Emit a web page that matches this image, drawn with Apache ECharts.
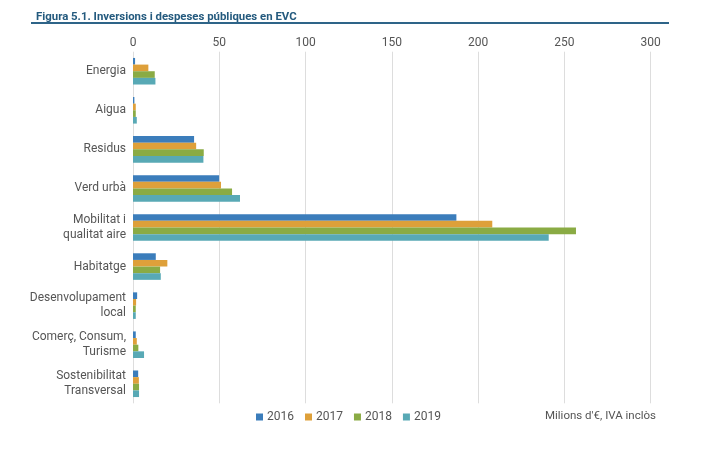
<!DOCTYPE html>
<html>
<head>
<meta charset="utf-8">
<script src="https://cdn.jsdelivr.net/npm/echarts@6/dist/echarts.min.js"></script>
<style>
html,body{margin:0;padding:0;background:#fff;}
#c{width:704px;height:457px;}
</style>
</head>
<body>
<div id="c"></div>
<script>
const categories = ["Energia","Aigua","Residus","Verd urbà","Mobilitat i\nqualitat aire","Habitatge","Desenvolupament\nlocal","Comerç, Consum,\nTurisme","Sostenibilitat\nTransversal"];
const years = ["2016","2017","2018","2019"];
const v2016 = [1.2, 0.8, 35.4, 49.9, 187.4, 13.2, 2.4, 1.6, 3.0];
const v2017 = [8.9, 1.6, 36.6, 51.0, 208.2, 19.9, 1.8, 2.2, 3.4];
const v2018 = [12.6, 1.6, 41.0, 57.4, 256.7, 15.7, 1.6, 3.1, 3.5];
const v2019 = [13.0, 2.2, 40.8, 62.0, 240.9, 16.1, 1.6, 6.4, 3.5];
const xTicks = [0, 50, 100, 150, 200, 250, 300];
const unitNote = "Milions d'€, IVA inclòs";
const titleText = "Figura 5.1. Inversions i despeses públiques en EVC";

const colors = ["#3b7dbb", "#dea03a", "#8aab44", "#58a9b5"];
const seriesData = [v2016, v2017, v2018, v2019];

const chart = echarts.init(document.getElementById('c'));
const font = "Roboto, 'Noto Sans', sans-serif";
chart.setOption({
  animation: false,
  color: colors,
  textStyle: {fontFamily: font},
  title: {
    text: titleText,
    left: 31, top: 7,
    textStyle: {fontFamily: "Roboto, sans-serif", fontWeight: 'bold', fontSize: 11.4, color: '#245a7e'}
  },
  graphic: [
    {type: 'rect', shape: {x: 31, y: 22, width: 638, height: 2}, style: {fill: '#2e6488'}},
    {type: 'text', right: 48, top: 410, style: {text: unitNote, fontFamily: font, fontSize: 11.5, fill: '#555'}}
  ],
  legend: {
    left: 251, top: 406,
    itemWidth: 7, itemHeight: 7, itemGap: 11,
    icon: 'rect',
    textStyle: {fontFamily: font, fontSize: 12, color: '#555', padding: [0,0,0,-1]},
    data: years
  },
  grid: {left: 133, right: 53.3, top: 51.7, bottom: 53.7, containLabel: false},
  xAxis: {
    type: 'value', position: 'top', min: xTicks[0], max: xTicks[xTicks.length-1], interval: 50,
    axisLine: {show: false}, axisTick: {show: false},
    axisLabel: {color: '#555', fontSize: 12, margin: 3},
    splitLine: {lineStyle: {color: '#dddddd', width: 1}}
  },
  yAxis: {
    type: 'category', inverse: true, data: categories,
    axisLine: {show: false}, axisTick: {show: false},
    axisLabel: {color: '#555', fontSize: 12, margin: 7, lineHeight: 15, align: 'right'}
  },
  series: seriesData.map((d, i) => ({
    name: years[i], type: 'bar', data: d,
    barGap: '0%', barCategoryGap: '32%',
    itemStyle: {color: colors[i]}
  }))
});
</script>
</body>
</html>
